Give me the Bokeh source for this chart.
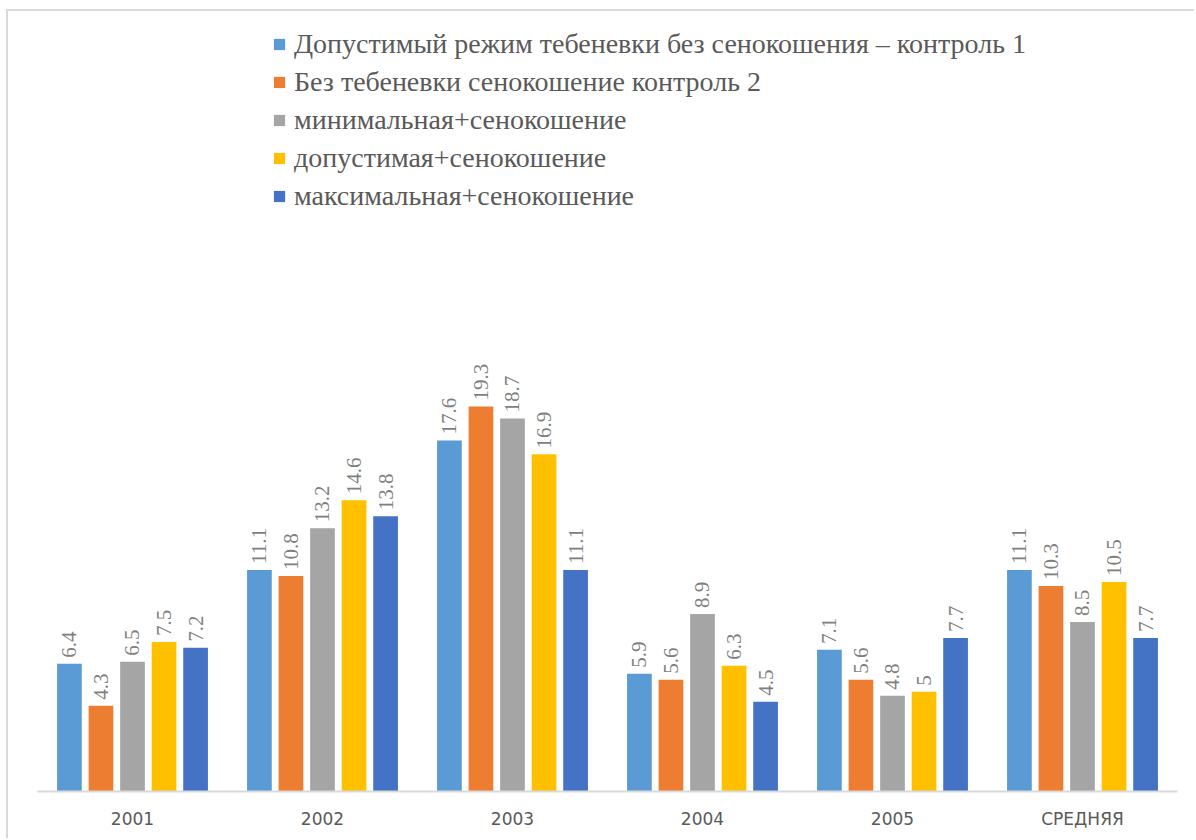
from bokeh.plotting import figure
from bokeh.models import ColumnDataSource, FactorRange, LabelSet, Legend, LegendItem
from bokeh.transform import dodge
from bokeh.embed import file_html
from bokeh.resources import INLINE
import math

categories = ["2001", "2002", "2003", "2004", "2005", "СРЕДНЯЯ"]
series_names = [
    "Допустимый режим тебеневки без сенокошения – контроль 1",
    "Без тебеневки сенокошение контроль 2",
    "минимальная+сенокошение",
    "допустимая+сенокошение",
    "максимальная+сенокошение",
]
s1 = [6.4, 11.1, 17.6, 5.9, 7.1, 11.1]
s2 = [4.3, 10.8, 19.3, 5.6, 5.6, 10.3]
s3 = [6.5, 13.2, 18.7, 8.9, 4.8, 8.5]
s4 = [7.5, 14.6, 16.9, 6.3, 5.0, 10.5]
s5 = [7.2, 13.8, 11.1, 4.5, 7.7, 7.7]
series = [s1, s2, s3, s4, s5]
colors = ["#5B9BD5", "#ED7D31", "#A5A5A5", "#FFC000", "#4472C4"]

p = figure(
    x_range=FactorRange(*categories, range_padding=0),
    y_range=(0, 38.65),
    width=1188, height=829,
    output_backend="svg", toolbar_location=None,
    min_border_left=29, min_border_right=19, min_border_top=9, min_border_bottom=49,
    margin=(9, 0, 0, 6),
)
p.styles = {"border-left": "2px solid #D9D9D9", "border-top": "2px solid #D9D9D9"}
p.outline_line_color = None
p.grid.visible = False
p.yaxis.visible = False
p.xaxis.axis_line_color = "#D9D9D9"
p.xaxis.axis_line_width = 2
p.xaxis.major_tick_line_color = None
p.xaxis.minor_tick_line_color = None
p.xaxis.major_label_text_font = "DejaVu Sans"
p.xaxis.major_label_text_font_size = "17px"
p.xaxis.major_label_text_color = "#595959"
p.xaxis.major_label_standoff = 11

step = 0.166
width = 0.13
items = []
for i, (vals, name, col) in enumerate(zip(series, series_names, colors)):
    src = ColumnDataSource(dict(cat=categories, v=vals, lab=[f"{v:g}" for v in vals]))
    off = (i - 2) * step
    r = p.vbar(x=dodge("cat", off, range=p.x_range), top="v", width=width, bottom=0,
               source=src, fill_color=col, line_color=None)
    items.append(LegendItem(label=name, renderers=[r]))
    labels = LabelSet(x=dodge("cat", off, range=p.x_range), y="v", text="lab", source=src,
                      angle=math.pi / 2, y_offset=6, text_align="left", text_baseline="middle",
                      text_font="Liberation Serif", text_font_size="21px", text_color="#7F7F7F")
    p.add_layout(labels)

legend = Legend(items=items, location=(235, 579), padding=0, margin=0,
                label_text_font="serif", label_text_font_size="28px",
                label_text_color="#595959", glyph_width=14, glyph_height=14,
                label_standoff=8, label_height=30, spacing=6,
                background_fill_alpha=0, border_line_color=None)
p.add_layout(legend)

open("out.html", "w").write(file_html(p, INLINE))
